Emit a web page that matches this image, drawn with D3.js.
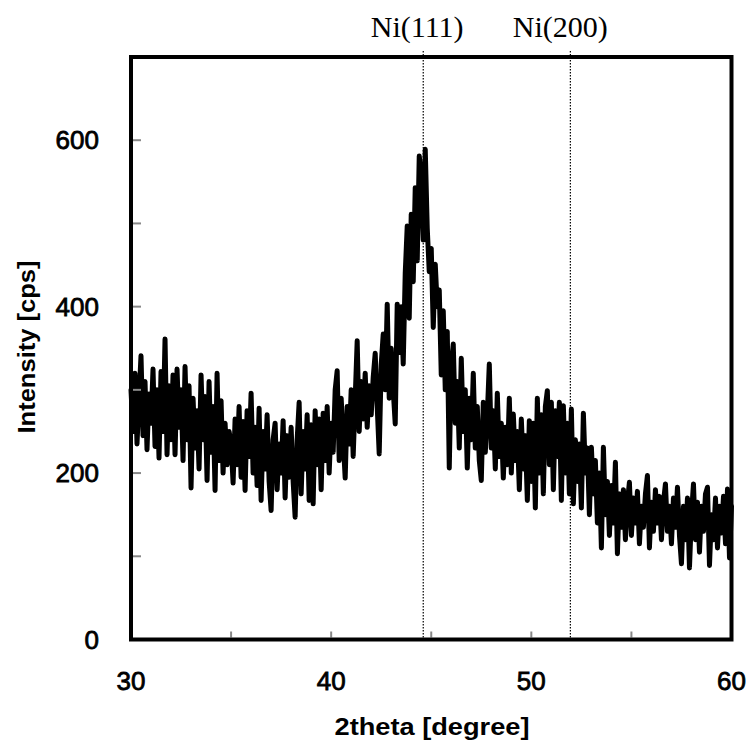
<!DOCTYPE html>
<html>
<head>
<meta charset="utf-8">
<script src="https://cdn.jsdelivr.net/npm/d3@7"></script>
<style>
  html, body { margin: 0; padding: 0; background: #fff; }
  svg { display: block; }
</style>
</head>
<body>
<svg id="chart" width="750" height="749"></svg>
<script>
// ---- data ----
const thetaStart = 30;
const thetaStep = 0.1;
const intensity = [
  300,250,320,235,290,341,245,310,228,295,
  260,325,232,300,218,322,250,361,222,305,
  240,318,222,325,255,300,215,328,240,305,
  182,290,230,275,205,318,240,292,191,310,
  225,280,179,320,215,287,200,260,210,250,
  236,188,265,210,280,195,262,179,275,220,
  296,200,255,185,278,167,250,205,270,190,
  155,240,260,180,235,200,263,170,245,195,
  255,190,147,240,285,175,250,205,270,167,
  258,163,275,210,265,180,272,215,280,200,
  260,225,300,323,215,290,240,194,280,235,
  300,220,290,359,250,310,265,320,255,305,
  270,315,344,280,223,330,367,300,403,290,
  350,300,259,403,345,400,331,440,497,386,
  511,430,543,455,581,560,480,589,494,442,
  470,375,451,400,420,318,395,300,370,206,
  330,355,260,310,230,338,250,300,206,290,
  240,320,230,280,215,191,285,225,270,331,
  230,275,205,296,220,260,194,255,210,290,
  200,271,215,250,180,265,205,245,167,263,
  190,260,158,290,200,270,175,280,299,210,
  285,180,275,220,285,167,281,200,260,175,
  277,163,240,190,235,158,272,200,230,150,
  231,175,215,140,200,110,231,150,190,125,
  185,140,213,103,175,135,180,120,165,189,
  125,170,140,178,115,160,135,175,197,110,
  165,130,180,140,172,120,165,187,130,160,
  115,170,135,183,125,91,160,120,170,86,
  150,187,120,165,105,160,130,175,183,89,
  150,120,170,110,160,128,172,115,181,98,
  160
];
const xTickLabels = [30, 40, 50, 60];
const xMinorTicks = [35, 40, 45, 50, 55];
const yTickLabels = [0, 200, 400, 600];
const yMinorTicks = [100, 200, 300, 400, 500, 600];
const peakNames = ["Ni(111)", "Ni(200)"];
const peakPositions = [44.6, 51.95];
const xTitle = "2theta [degree]";
const yTitle = "Intensity [cps]";

(function () {
  const pLeft = 131, pRight = 731.5, pTop = 57, pBottom = 639.5;
  const svg = d3.select("#chart");
  const x = d3.scaleLinear().domain([30, 60]).range([pLeft, pRight]);
  const y = d3.scaleLinear().domain([0, 700]).range([pBottom, pTop]);

  const points = intensity.map((v, i) => [thetaStart + i * thetaStep, v]);

  // data line
  svg.append("path")
    .datum(points)
    .attr("fill", "none")
    .attr("stroke", "#000")
    .attr("stroke-width", 5)
    .attr("stroke-linejoin", "round")
    .attr("stroke-linecap", "round")
    .attr("d", d3.line().x(d => x(d[0])).y(d => y(d[1])));

  // dotted reference lines
  svg.selectAll("line.peak")
    .data(peakPositions)
    .enter().append("line")
    .attr("class", "peak")
    .attr("x1", d => x(d)).attr("x2", d => x(d))
    .attr("y1", 51).attr("y2", pBottom)
    .attr("stroke", "#000")
    .attr("stroke-width", 1.2)
    .attr("stroke-dasharray", "1.5,1.5");

  // peak labels
  const labelOffsets = [-6, -10];
  svg.selectAll("text.peak")
    .data(peakNames)
    .enter().append("text")
    .attr("class", "peak")
    .attr("x", (d, i) => x(peakPositions[i]) + labelOffsets[i])
    .attr("y", 37)
    .attr("text-anchor", "middle")
    .attr("font-family", "'Liberation Serif', 'Times New Roman', serif")
    .attr("font-size", 30)
    .attr("fill", "#000")
    .text(d => d);

  // minor ticks (inside)
  const gTicks = svg.append("g").attr("stroke", "#888").attr("stroke-width", 2);
  gTicks.selectAll("line.xt").data(xMinorTicks).enter().append("line")
    .attr("x1", d => x(d)).attr("x2", d => x(d))
    .attr("y1", pBottom - 2).attr("y2", pBottom - 8);
  gTicks.selectAll("line.yt").data(yMinorTicks).enter().append("line")
    .attr("x1", pLeft + 2).attr("x2", pLeft + 10)
    .attr("y1", d => y(d)).attr("y2", d => y(d));

  // frame
  svg.append("rect")
    .attr("x", pLeft).attr("y", pTop)
    .attr("width", pRight - pLeft).attr("height", pBottom - pTop)
    .attr("fill", "none")
    .attr("stroke", "#000")
    .attr("stroke-width", 4);

  // tick labels
  const tickFont = "'Liberation Sans', Arial, sans-serif";
  svg.selectAll("text.xl").data(xTickLabels).enter().append("text")
    .attr("x", d => x(d)).attr("y", 690)
    .attr("text-anchor", "middle")
    .attr("font-family", tickFont).attr("font-size", 26)
    .attr("stroke", "#000").attr("stroke-width", 0.8)
    .text(d => d);
  svg.selectAll("text.yl").data(yTickLabels).enter().append("text")
    .attr("x", 99).attr("y", d => y(d) + 9)
    .attr("text-anchor", "end")
    .attr("font-family", tickFont).attr("font-size", 26)
    .attr("stroke", "#000").attr("stroke-width", 0.8)
    .text(d => d);

  // axis titles
  svg.append("text")
    .attr("x", 432).attr("y", 735)
    .attr("text-anchor", "middle")
    .attr("font-family", tickFont).attr("font-weight", "bold").attr("font-size", 24)
    .attr("textLength", 195).attr("lengthAdjust", "spacingAndGlyphs")
    .text(xTitle);
  svg.append("text")
    .attr("transform", "translate(35,347) rotate(-90)")
    .attr("text-anchor", "middle")
    .attr("font-family", tickFont).attr("font-weight", "bold").attr("font-size", 24)
    .attr("textLength", 173).attr("lengthAdjust", "spacingAndGlyphs")
    .text(yTitle);
})();
</script>
</body>
</html>
